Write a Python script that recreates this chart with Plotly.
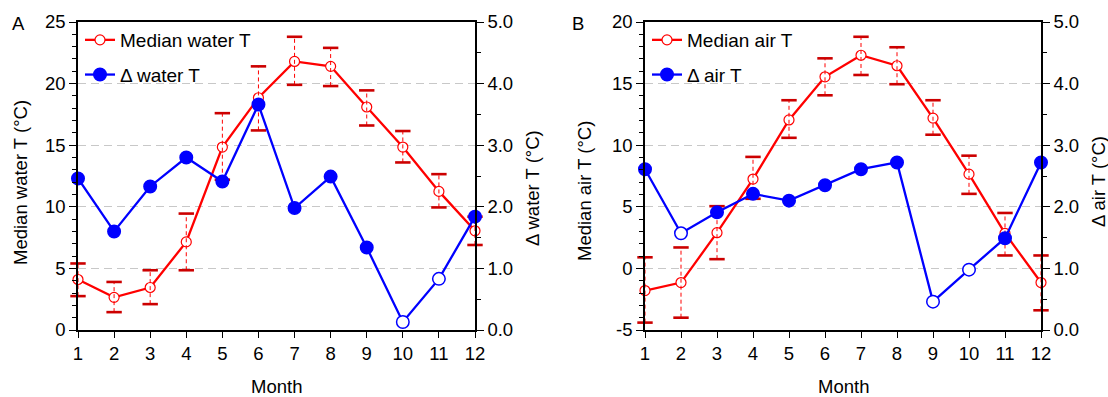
import plotly.graph_objects as go

months = list(range(1, 13))

# Panel A: water temperature
water_median = [4.1, 2.65, 3.45, 7.15, 14.85, 18.85, 21.8, 21.4, 18.1, 14.85, 11.25, 8.05]
water_upper = [5.4, 3.9, 4.85, 9.45, 17.6, 21.4, 23.8, 22.9, 19.45, 16.15, 12.65, 9.2]
water_lower = [2.75, 1.45, 2.1, 4.85, 12.2, 16.2, 19.9, 19.8, 16.6, 13.6, 9.95, 6.9]
water_delta = [2.46, 1.60, 2.33, 2.80, 2.41, 3.66, 1.98, 2.49, 1.34, 0.13, 0.83, 1.84]
water_delta_open = [False, False, False, False, False, False, False, False, False, True, True, False]

# Panel B: air temperature
air_median = [-1.8, -1.15, 2.9, 7.25, 12.05, 15.55, 17.3, 16.45, 12.2, 7.65, 2.85, -1.15]
air_upper = [0.9, 1.7, 5.05, 9.05, 13.65, 17.05, 18.8, 17.95, 13.65, 9.15, 4.5, 1.05]
air_lower = [-4.4, -4.0, 0.75, 5.65, 10.6, 14.05, 15.7, 14.95, 10.85, 6.05, 1.05, -3.4]
air_delta = [2.61, 1.57, 1.91, 2.21, 2.10, 2.35, 2.61, 2.72, 0.46, 0.98, 1.49, 2.72]
air_delta_open = [False, True, False, False, False, False, False, False, True, True, False, False]

# Tick labels
water_left_ticks = [0, 5, 10, 15, 20, 25]
air_left_ticks = [-5, 0, 5, 10, 15, 20]
air_left_ticktext = ["-5", "0", "5", "10", "15", "20"]

W, H = 1108, 397
FONT = "Liberation Sans, Arial, sans-serif"
RED = "#ff0000"
CAP = "#cc0000"
BLUE = "#0000ff"


def px(p):
    return p / W


def py(p):
    return 1 - p / H


fig = go.Figure()


def add_panel(xa, yl, yr, median, upper, lower, delta, delta_open, med_name, delta_name, legend):
    fig.add_trace(go.Scatter(
        x=months, y=median, mode="lines+markers", name=med_name,
        xaxis=xa, yaxis=yl, cliponaxis=False, legend=legend, legendgroup=med_name,
        line=dict(color=RED, width=2.3),
        marker=dict(symbol="circle", size=10, color="white", line=dict(color=RED, width=1.2)),
    ))
    ex, ey = [], []
    for m, lo, hi in zip(months, lower, upper):
        ex += [m, m, None]
        ey += [lo, hi, None]
    fig.add_trace(go.Scatter(
        x=ex, y=ey, mode="lines", showlegend=False, hoverinfo="skip",
        xaxis=xa, yaxis=yl, cliponaxis=False,
        line=dict(color=RED, width=1, dash="4px,3px"),
    ))
    fig.add_trace(go.Scatter(
        x=months + months, y=upper + lower, mode="markers", showlegend=False, hoverinfo="skip",
        xaxis=xa, yaxis=yl, cliponaxis=False,
        marker=dict(symbol="line-ew", size=11, line=dict(color=CAP, width=2.6)),
    ))
    fig.add_trace(go.Scatter(
        x=months, y=delta, mode="lines+markers", name=delta_name,
        xaxis=xa, yaxis=yr, cliponaxis=False, legend=legend, legendgroup=delta_name,
        line=dict(color=BLUE, width=2.3),
        marker=dict(
            symbol="circle",
            size=12.5,
            color=["#ffffff" if o else BLUE for o in delta_open],
            line=dict(color=BLUE, width=1.5),
        ),
    ))


add_panel("x", "y", "y2", water_median, water_upper, water_lower, water_delta, water_delta_open,
          "Median water T", "Δ water T", "legend")
add_panel("x2", "y3", "y4", air_median, air_upper, air_lower, air_delta, air_delta_open,
          "Median air T", "Δ air T", "legend2")

tickfont = dict(family=FONT, size=18.5, color="black")
ydom = [py(330), py(22)]

xcommon = dict(range=[1, 12], tickvals=months, ticks="outside", ticklen=6, tickwidth=1.3,
               tickcolor="black", showline=True, linecolor="black", linewidth=1.5, mirror=True,
               showgrid=False, zeroline=False, tickfont=tickfont, automargin=False)
yleft = dict(ticks="outside", ticklen=7, tickwidth=1.3, tickcolor="black", showline=True,
             linecolor="black", linewidth=1.5, showgrid=True, gridcolor="#c8c8c8", gridwidth=1,
             griddash="8px,5px", zeroline=False, tickfont=tickfont, automargin=False, domain=ydom,
             minor=dict(dtick=1, ticklen=4, ticks="outside", tickcolor="black", tickwidth=1.2, showgrid=False))
yright = dict(ticks="outside", ticklen=7, tickwidth=1.3, tickcolor="black", showline=True,
              linecolor="black", linewidth=1.5, showgrid=False, zeroline=False, tickfont=tickfont,
              automargin=False, side="right", range=[0, 5], dtick=1, tick0=0, tickformat=".1f",
              minor=dict(dtick=0.5, ticklen=4, ticks="outside", tickcolor="black", tickwidth=1.2, showgrid=False))

legend_common = dict(xanchor="left", yanchor="top", bgcolor="rgba(0,0,0,0)",
                     font=dict(family=FONT, size=19, color="black"), tracegroupgap=7,
                     traceorder="grouped", itemwidth=30)

titlefont = dict(family=FONT, size=18.5, color="black")
annotations = [
    dict(text="A", x=px(18), y=py(23), xref="paper", yref="paper", showarrow=False,
         font=titlefont, xanchor="center", yanchor="middle"),
    dict(text="B", x=px(578), y=py(23), xref="paper", yref="paper", showarrow=False,
         font=titlefont, xanchor="center", yanchor="middle"),
    dict(text="Median water T (°C)", x=px(20), y=py(183), textangle=-90, xref="paper", yref="paper",
         showarrow=False, font=titlefont, xanchor="center", yanchor="middle"),
    dict(text="Δ water T (°C)", x=px(533), y=py(188), textangle=-90, xref="paper", yref="paper",
         showarrow=False, font=titlefont, xanchor="center", yanchor="middle"),
    dict(text="Median air T (°C)", x=px(585), y=py(191), textangle=-90, xref="paper", yref="paper",
         showarrow=False, font=titlefont, xanchor="center", yanchor="middle"),
    dict(text="Δ air T (°C)", x=px(1099), y=py(182), textangle=-90, xref="paper", yref="paper",
         showarrow=False, font=titlefont, xanchor="center", yanchor="middle"),
    dict(text="Month", x=px(276), y=py(386), xref="paper", yref="paper", showarrow=False,
         font=titlefont, xanchor="center", yanchor="middle"),
    dict(text="Month", x=px(843), y=py(386), xref="paper", yref="paper", showarrow=False,
         font=titlefont, xanchor="center", yanchor="middle"),
]

fig.update_layout(
    width=W, height=H, margin=dict(l=0, r=0, t=0, b=0),
    paper_bgcolor="white", plot_bgcolor="white",
    font=dict(family=FONT, color="black"),
    xaxis=dict(**xcommon, domain=[px(78), px(475)], anchor="y"),
    xaxis2=dict(**xcommon, domain=[px(645), px(1041)], anchor="y3"),
    yaxis=dict(**yleft, range=[0, 25], tickvals=water_left_ticks, anchor="x"),
    yaxis2=dict(**yright, overlaying="y", anchor="x"),
    yaxis3=dict(**yleft, range=[-5, 20], tickvals=air_left_ticks, ticktext=air_left_ticktext, anchor="x2"),
    yaxis4=dict(**yright, overlaying="y3", anchor="x2"),
    legend=dict(**legend_common, x=px(80), y=py(21)),
    legend2=dict(**legend_common, x=px(647), y=py(21)),
    annotations=annotations,
    showlegend=True,
)

fig.write_html("out.html")
